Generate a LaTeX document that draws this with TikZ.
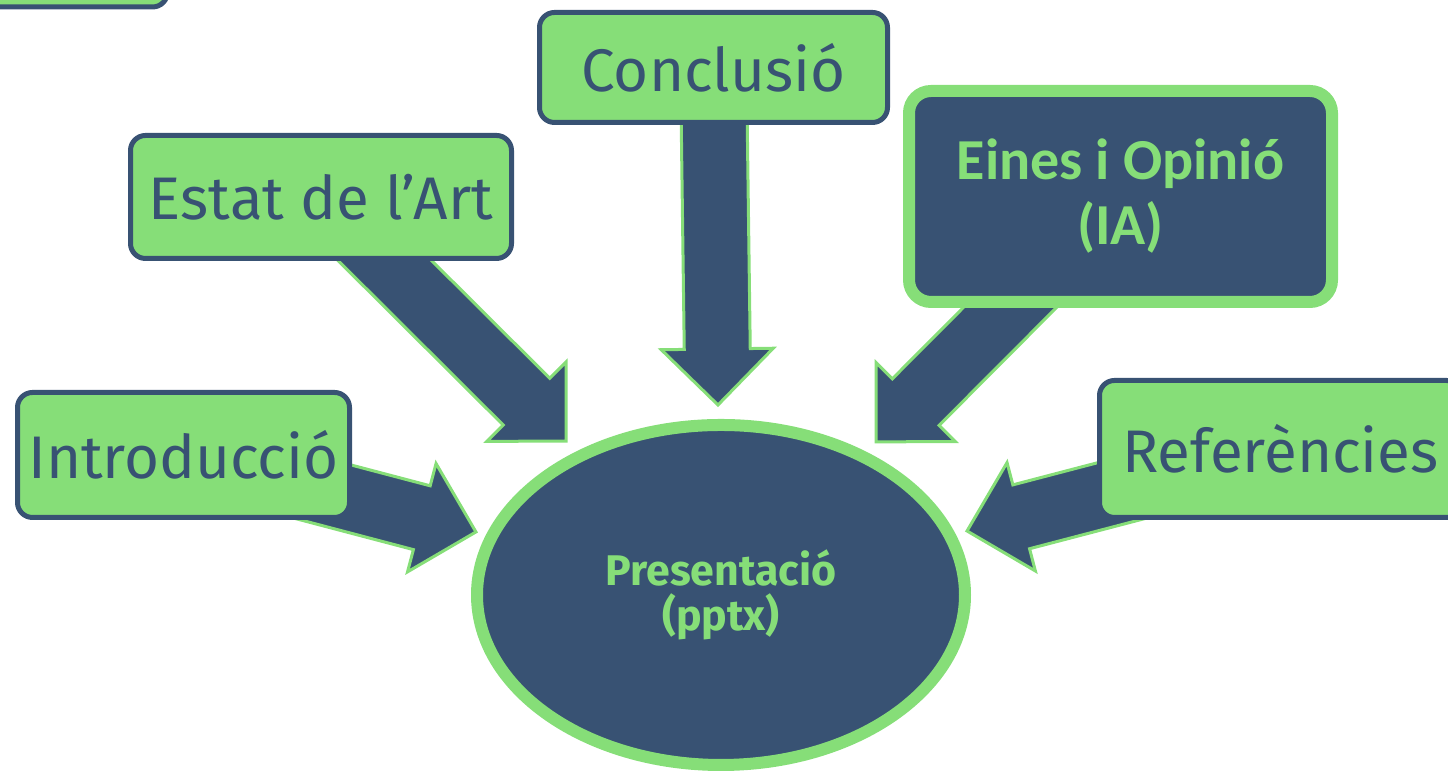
\documentclass[tikz,border=0pt]{standalone}
\usepackage{fontspec}
\setmainfont{Fira Sans}
\newfontfamily\calfont{Carlito}
\usetikzlibrary{shapes.geometric,calc,backgrounds}

\definecolor{slate}{HTML}{385273}
\definecolor{leaf}{HTML}{86DE78}

\tikzset{
  topic/.style={draw=slate, fill=leaf, line width=0.05cm, rounded corners=0.15cm,
    text=slate, inner sep=0pt, font=\fontsize{17.1}{20}\selectfont},
  darktopic/.style={draw=leaf, fill=slate, line width=0.12cm, rounded corners=0.22cm,
    text=leaf, inner sep=0pt, align=center, font=\calfont\bfseries\fontsize{16.5}{18.5}\selectfont},
  hub/.style={ellipse, draw=leaf, fill=slate, line width=0.12cm, inner sep=0pt,
    text=leaf, align=center, font=\bfseries\fontsize{12.2}{12.6}\selectfont},
  bigarrow/.style={fill=slate, draw=leaf, line width=0.03cm, line join=miter}
}

% block arrow from the centre of #1 to the point #2
\newcommand{\blockarrow}[2]{%
  \path[bigarrow] let \p1=($(#2)-(#1)$), \n1={atan2(\y1,\x1)}, \n2={veclen(\x1,\y1)} in
    [shift={(#1)}, rotate=\n1]
    (0pt,0.33cm) -- ({\n2-0.56cm},0.33cm) -- ({\n2-0.56cm},0.56cm) -- (\n2,0pt)
    -- ({\n2-0.56cm},-0.56cm) -- ({\n2-0.56cm},-0.33cm) -- (0pt,-0.33cm) -- cycle;
}

\begin{document}
\begin{tikzpicture}
  \useasboundingbox (0,0) rectangle (14.48,-7.72);

  \node[topic, minimum width=2.4cm, minimum height=1cm, anchor=south east] (corner) at (1.70,-0.095) {};

  \node[topic, minimum width=3.48cm, minimum height=1.10cm] (concl) at (7.135,-0.675) {Conclusió};
  \node[topic, minimum width=3.81cm, minimum height=1.23cm] (estat) at (3.21,-1.97) {Estat de l’Art};
  \node[topic, minimum width=3.32cm, minimum height=1.25cm] (intro) at (1.835,-4.55) {Introducció};
  \node[topic, minimum width=3.62cm, minimum height=1.37cm] (refs) at (12.805,-4.49) {Referències};
  \node[darktopic, minimum width=4.23cm, minimum height=2.11cm] (eines) at (11.205,-1.965) {Eines i Opinió\\(IA)};

  \node[hub, minimum width=4.88cm, minimum height=3.40cm] (pres) at (7.21,-5.95) {Presentació\\(pptx)};

  \coordinate (tipconcl) at (7.18,-4.05);
  \coordinate (tipestat) at (5.67,-4.42);
  \coordinate (tipeines) at (8.76,-4.42);
  \coordinate (tipintro) at (4.76,-5.32);
  \coordinate (tiprefs) at (9.67,-5.31);

  \begin{scope}[on background layer]
    \blockarrow{concl}{tipconcl}
    \blockarrow{estat}{tipestat}
    \blockarrow{eines}{tipeines}
    \blockarrow{intro}{tipintro}
    \blockarrow{refs}{tiprefs}
  \end{scope}
\end{tikzpicture}
\end{document}
